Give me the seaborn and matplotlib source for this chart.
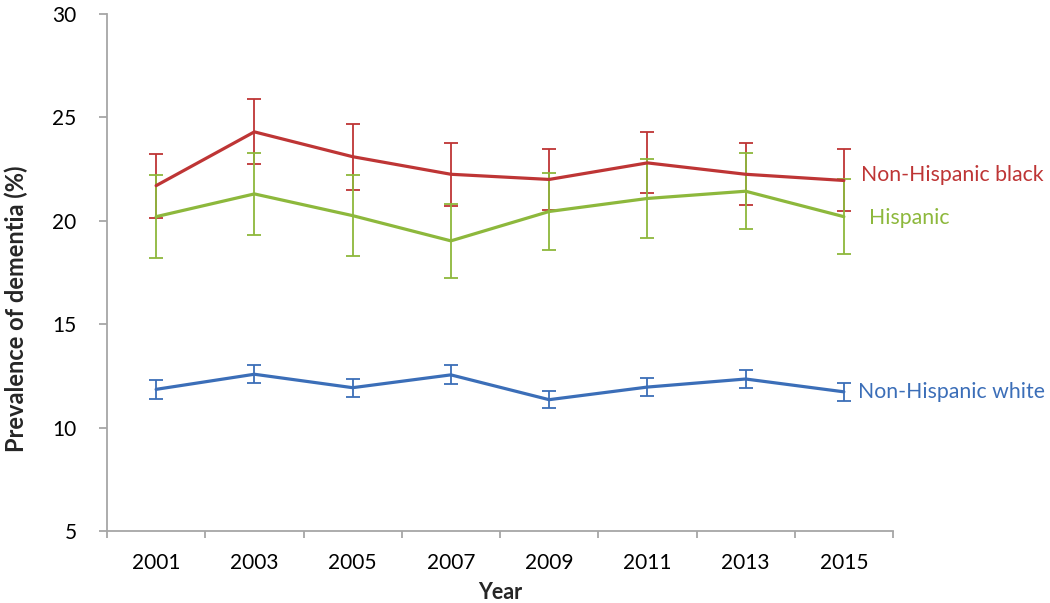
import numpy as np
import pandas as pd
import seaborn as sns
import matplotlib
matplotlib.use("Agg")
import matplotlib.pyplot as plt

# ---- data ----
years = ["2001", "2003", "2005", "2007", "2009", "2011", "2013", "2015"]
black = [21.7, 24.3, 23.1, 22.25, 22.0, 22.8, 22.25, 21.95]
black_err = [1.55, 1.57, 1.6, 1.52, 1.48, 1.47, 1.5, 1.5]
hisp = [20.2, 21.3, 20.25, 19.03, 20.45, 21.08, 21.43, 20.2]
hisp_err = [2.0, 2.0, 1.95, 1.78, 1.86, 1.9, 1.85, 1.8]
white = [11.85, 12.58, 11.93, 12.55, 11.35, 11.96, 12.35, 11.73]
white_err = [0.45, 0.44, 0.44, 0.46, 0.42, 0.43, 0.44, 0.44]
series_names = ["Non-Hispanic white", "Non-Hispanic black", "Hispanic"]
yticks = [5, 10, 15, 20, 25, 30]

colors = {"Non-Hispanic white": "#3B6EB8",
          "Non-Hispanic black": "#BE3535",
          "Hispanic": "#8DB83C"}

sns.set_theme(style="white")
plt.rcParams["font.family"] = ["Lato", "DejaVu Sans"]

fig = plt.figure(figsize=(10.5, 6.03), dpi=100)
ax = fig.add_axes([107 / 1050, 1 - 531 / 603, (893 - 107) / 1050, (531 - 14) / 603])

xpos = np.arange(len(years))
data = {"Non-Hispanic white": (white, white_err),
        "Non-Hispanic black": (black, black_err),
        "Hispanic": (hisp, hisp_err)}

for name in series_names:
    vals, errs = data[name]
    df = pd.DataFrame({"x": xpos, "y": vals})
    sns.lineplot(data=df, x="x", y="y", ax=ax, color=colors[name], lw=2.3,
                 zorder=3)
    ax.errorbar(xpos, vals, yerr=errs, fmt="none", ecolor=colors[name],
                elinewidth=1.3, capsize=5, capthick=1.3, zorder=2)

ax.set_xlim(-0.5, len(years) - 0.5)
ax.set_ylim(5, 30)
ax.set_yticks(yticks)
ax.set_xticks(xpos)
ax.set_xticklabels(years)
ax.set_xticks(np.arange(-0.5, len(years), 1.0), minor=True)

spine_c = "#A6A6A6"
for s in ["top", "right"]:
    ax.spines[s].set_visible(False)
for s in ["left", "bottom"]:
    ax.spines[s].set_color(spine_c)
    ax.spines[s].set_linewidth(1.3)

ax.tick_params(axis="x", which="major", length=0, pad=16, labelsize=15,
               colors="black")
ax.tick_params(axis="x", which="minor", length=5, width=1.3, color=spine_c,
               direction="out")
ax.tick_params(axis="y", which="major", length=6, width=1.3, color=spine_c,
               direction="out", pad=16, labelsize=15, labelcolor="black")
ax.xaxis.set_ticks_position("bottom")
ax.yaxis.set_ticks_position("left")

ax.set_xlabel("Year", fontsize=15.5, fontweight="bold")
ax.xaxis.set_label_coords(0.5, -0.098)
ax.set_ylabel("Prevalence of dementia (%)", fontsize=17, fontweight="bold")
ax.yaxis.set_label_coords(-0.1, 0.43)
ax.grid(False)

last = len(years) - 1
ax.annotate("Non-Hispanic black", xy=(last, black[-1]), xytext=(12, 4),
            textcoords="offset points", color=colors["Non-Hispanic black"],
            fontsize=15.3, va="center", ha="left")
ax.annotate("Hispanic", xy=(last, hisp[-1]), xytext=(18, -1),
            textcoords="offset points", color=colors["Hispanic"],
            fontsize=15.3, va="center", ha="left")
ax.annotate("Non-Hispanic white", xy=(last, white[-1]), xytext=(10, 0),
            textcoords="offset points", color=colors["Non-Hispanic white"],
            fontsize=15.3, va="center", ha="left")

fig.savefig("out.png", dpi=100)
